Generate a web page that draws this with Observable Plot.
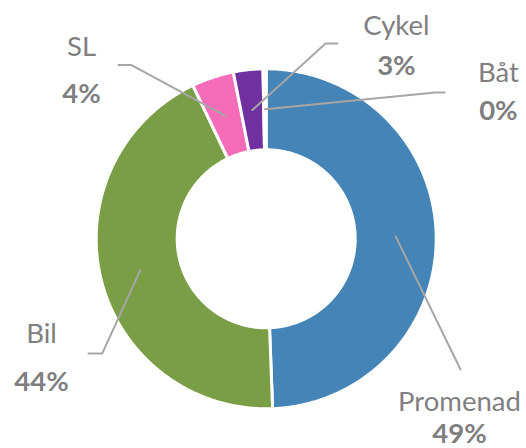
<!DOCTYPE html>
<html><head><meta charset="utf-8">
<script src="https://cdn.jsdelivr.net/npm/d3@7"></script>
<script src="https://cdn.jsdelivr.net/npm/@observablehq/plot@0.6"></script>
<style>html,body{margin:0;padding:0;background:#fff;}</style>
</head><body><div id="chart"></div>
<script>
// ---- data ----
const categories = ["Promenad", "Bil", "SL", "Cykel", "Båt"];
const values = [49.4, 43.5, 4.0, 2.8, 0.3];
const colors = ["#4584B6", "#7A9E46", "#F56CB9", "#7030A0", "#A5A5A5"];

// ---- layout (chart units: 1 = outer radius) ----
const W = 526, H = 448, CX = 265.7, CY = 238.3, R = 170, INNER = 89 / 170;
const FONT = 27.5;
const labelLayout = {
  "Promenad": {tx: 1.137, name: -1.012, pct: -1.203, leader: [[1.143, -0.769]]},
  "Bil":      {tx: -1.322, name: -0.610, pct: -0.898, leader: [[-0.965, -0.675], [-1.045, -0.675]]},
  "SL":       {tx: -1.086, name: 1.078, pct: 0.796, leader: [[-0.792, 1.022], [-0.869, 1.022]]},
  "Cykel":    {tx: 0.766, name: 1.196, pct: 0.961, leader: [[0.349, 1.149], [0.419, 1.149]]},
  "Båt":      {tx: 1.366, name: 0.925, pct: 0.701, leader: [[0.996, 0.860], [1.049, 0.860]]}
};

const total = d3.sum(values);
const pie = d3.pie().sort(null).startAngle(0).endAngle(2 * Math.PI)(values);

const ring = [];
const leaders = [];
const labels = [];
pie.forEach((p, i) => {
  const cat = categories[i];
  const a0 = p.startAngle, a1 = p.endAngle;
  const n = Math.max(2, Math.ceil((a1 - a0) / 0.01));
  for (let k = 0; k <= n; k++) {
    const a = a0 + (a1 - a0) * k / n;
    ring.push({cat, x: Math.sin(a), y: Math.cos(a)});
  }
  for (let k = n; k >= 0; k--) {
    const a = a0 + (a1 - a0) * k / n;
    ring.push({cat, x: INNER * Math.sin(a), y: INNER * Math.cos(a)});
  }
  const mid = (a0 + a1) / 2, rc = (1 + INNER) / 2;
  const L = labelLayout[cat];
  leaders.push({cat, x: rc * Math.sin(mid), y: rc * Math.cos(mid)});
  L.leader.forEach(([x, y]) => leaders.push({cat, x, y}));
  labels.push({cat, tx: L.tx, name: L.name, pctY: L.pct, pct: Math.round(values[i] / total * 100) + "%"});
});

const chart = Plot.plot({
  width: W, height: H, margin: 0,
  x: {domain: [-CX / R, (W - CX) / R], axis: null},
  y: {domain: [-(H - CY) / R, CY / R], axis: null},
  color: {domain: categories, range: colors},
  style: {fontFamily: "Lato, 'Open Sans', sans-serif", background: "#fff", overflow: "visible"},
  marks: [
    Plot.line(ring, {x: "x", y: "y", z: "cat", fill: "cat", stroke: "white", strokeWidth: 3, strokeLinejoin: "round", curve: "linear-closed"}),
    Plot.line(leaders, {x: "x", y: "y", z: "cat", stroke: "#A6A6A6", strokeWidth: 2, strokeLinejoin: "miter"}),
    Plot.text(labels, {x: "tx", y: "name", text: "cat", textAnchor: "middle", lineAnchor: "bottom", fontSize: FONT, fill: "#7F7F7F"}),
    Plot.text(labels, {x: "tx", y: "pctY", text: "pct", textAnchor: "middle", lineAnchor: "bottom", fontSize: FONT, fontWeight: "bold", fill: "#7F7F7F"})
  ]
});
document.getElementById("chart").appendChild(chart);
</script>
</body></html>
